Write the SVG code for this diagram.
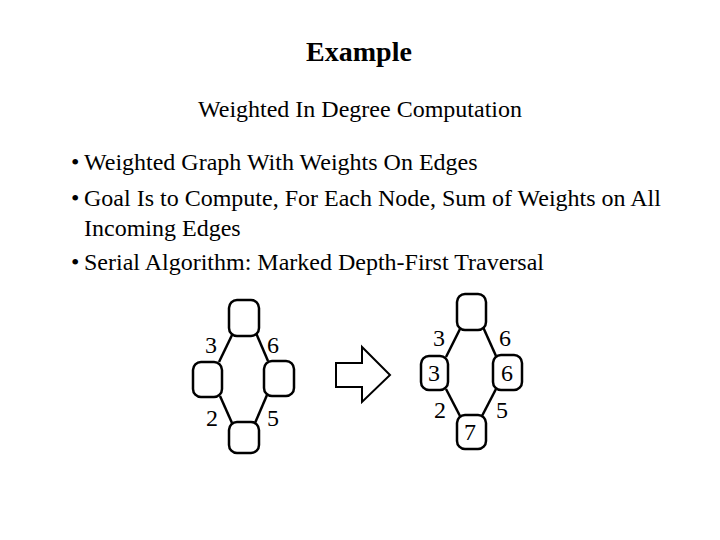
<svg xmlns="http://www.w3.org/2000/svg" width="720" height="540" viewBox="0 0 720 540">
<style>
text{font-family:"Liberation Serif","Times New Roman",serif;fill:#000}
.t{font-size:24px}
.h{font-size:28px;font-weight:bold}
.n{font-size:24px;text-anchor:middle}
.node{fill:#fff;stroke:#000;stroke-width:2.5}
.e{stroke:#000;stroke-width:2.5;fill:none}
</style>
<rect width="720" height="540" fill="#fff"/>
<text class="h" x="359" y="61" text-anchor="middle">Example</text>
<text class="t" x="360" y="117" text-anchor="middle">Weighted In Degree Computation</text>
<g id="bullets" class="t">
<text x="71" y="170">•</text><text x="84" y="170">Weighted Graph With Weights On Edges</text>
<text x="71" y="206">•</text><text x="84" y="206">Goal Is to Compute, For Each Node, Sum of Weights on All</text>
<text x="84" y="236">Incoming Edges</text>
<text x="71" y="270">•</text><text x="84" y="270">Serial Algorithm: Marked Depth-First Traversal</text>
</g>
<g id="connectors">
<line class="e" x1="233" y1="333" x2="219" y2="362"/>
<line class="e" x1="256" y1="333" x2="268" y2="361"/>
<line class="e" x1="220" y1="396" x2="232" y2="423"/>
<line class="e" x1="267" y1="395" x2="255" y2="423"/>
<line class="e" x1="461" y1="327" x2="446" y2="357"/>
<line class="e" x1="483" y1="327" x2="496" y2="356"/>
<line class="e" x1="446" y1="389" x2="460" y2="416"/>
<line class="e" x1="496" y1="389" x2="482" y2="416"/>
</g>
<g id="L_top"><rect class="node" x="229" y="300" width="30" height="36" rx="8"/></g>
<g id="L_left"><rect class="node" x="193" y="362" width="29" height="35" rx="8"/></g>
<g id="L_right"><rect class="node" x="264" y="361" width="30" height="35" rx="8"/></g>
<g id="L_bottom"><rect class="node" x="229" y="422" width="30" height="31" rx="8"/></g>
<g id="L_labels">
<text class="n" x="211" y="353">3</text>
<text class="n" x="273" y="353">6</text>
<text class="n" x="212" y="426">2</text>
<text class="n" x="273" y="426">5</text>
</g>
<g id="arrow"><polygon points="336,363 362,363 362,347 390,375 362,402 362,387 336,387" fill="#fff" stroke="#000" stroke-width="2"/></g>
<g id="R_top"><rect class="node" x="457" y="294" width="29" height="36" rx="8"/></g>
<g id="R_left"><rect class="node" x="421" y="356" width="27" height="34" rx="8"/><text class="n" x="434" y="381">3</text></g>
<g id="R_right"><rect class="node" x="493" y="355" width="29" height="35" rx="8"/><text class="n" x="507" y="381">6</text></g>
<g id="R_bottom"><rect class="node" x="457" y="415" width="29" height="34" rx="8"/><text class="n" x="470" y="440">7</text></g>
<g id="R_labels">
<text class="n" x="439" y="346">3</text>
<text class="n" x="505" y="346">6</text>
<text class="n" x="440" y="418">2</text>
<text class="n" x="502" y="418">5</text>
</g>
</svg>
